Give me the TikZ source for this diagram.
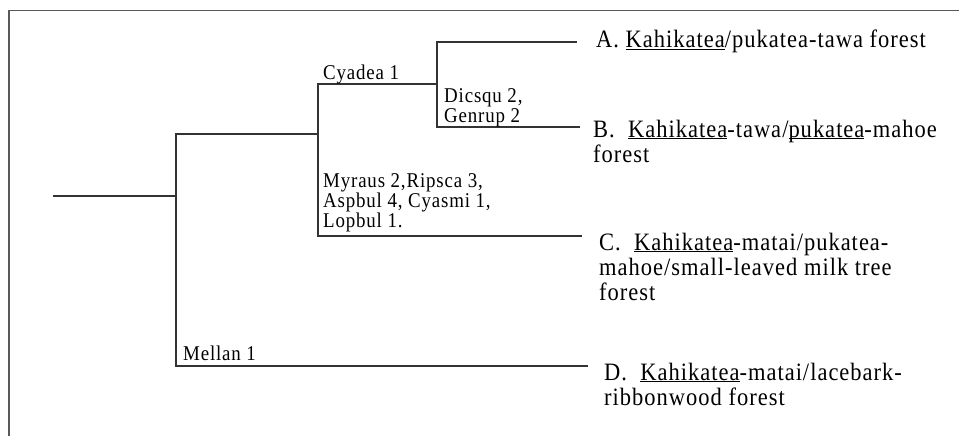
\documentclass[tikz,border=0pt]{standalone}
\usepackage{fontspec}
\setmainfont{Liberation Serif}
\newfontfamily\bigfam[FakeStretch=0.9,LetterSpace=4]{Liberation Serif}
\newfontfamily\smallfam[FakeStretch=0.9,LetterSpace=4]{Liberation Serif}
\newcommand\ulword[1]{\underline{\smash{#1}}}
\begin{document}
\begin{tikzpicture}[x=1pt,y=-1pt,
  branch/.style={draw=black!80,line width=1.1pt},
  frame/.style={draw=black!65,line width=1.3pt},
  biglab/.style={anchor=base west,inner sep=0pt,align=left,font=\bigfam\fontsize{25}{25}\selectfont},
  smalllab/.style={anchor=base west,inner sep=0pt,align=left,font=\smallfam\fontsize{21}{20}\selectfont}]
\useasboundingbox (0,0) rectangle (959,436);
% frame
\coordinate (fTR) at (959,10.5);
\coordinate (fTL) at (9,10.5);
\coordinate (fBL) at (9,436);
\draw[frame] (fTR) -- (fTL) -- (fBL);
% tree coordinates
\coordinate (r0) at (53,196);
\coordinate (j1) at (176,196);
\coordinate (j2) at (318,134);
\coordinate (j3) at (437,84);
\coordinate (eA) at (577,42);
\coordinate (eB) at (580,127);
\coordinate (eC) at (582,236);
\coordinate (eD) at (588,366);
\draw[branch] (r0) -- (j1);
\draw[branch] (j1) |- (j2);
\draw[branch] (j1) |- (eD);
\draw[branch] (j2) |- (j3);
\draw[branch] (j2) |- (eC);
\draw[branch] (j3) |- (eA);
\draw[branch] (j3) |- (eB);
% branch labels (base anchor = last line's baseline)
\node[smalllab] (lCy) at (323,80) {Cyadea 1};
\node[smalllab] (lDi) at (444,122) {Dicsqu 2,\\Genrup 2};
\node[smalllab] (lMy) at (323,227) {Myraus 2,Ripsca 3,\\Aspbul 4, Cyasmi 1,\\Lopbul 1.};
\node[smalllab] (lMe) at (183,360) {Mellan 1};
% leaf labels
\node[biglab] (tA) at (596,48) {A. \ulword{Kahikatea}/pukatea-tawa forest};
\node[biglab] (tB) at (593,162) {B.\ \ \ulword{Kahikatea}-tawa/\ulword{pukatea}-mahoe\\forest};
\node[biglab] (tC) at (599,300) {C.\ \ \ulword{Kahikatea}-matai/pukatea-\\mahoe/small-leaved milk tree\\forest};
\node[biglab] (tD) at (604,405) {D.\ \ \ulword{Kahikatea}-matai/lacebark-\\ribbonwood forest};
\end{tikzpicture}
\end{document}
